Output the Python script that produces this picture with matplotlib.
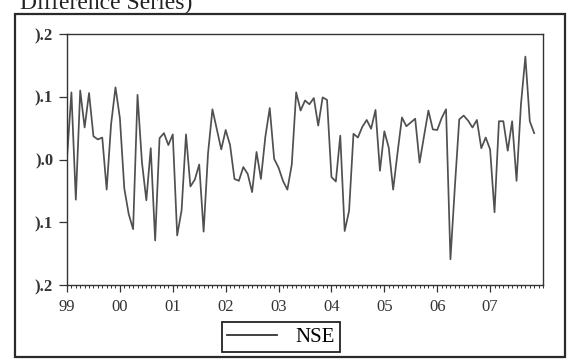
import numpy as np
import matplotlib
matplotlib.use('Agg')
import matplotlib.pyplot as plt
from matplotlib.lines import Line2D
from matplotlib.patches import Rectangle

# monthly NSE difference series, Jan 1999 .. Nov 2007
y1999 = [0.002, 0.107, -0.064, 0.110, 0.051, 0.106, 0.037, 0.032, 0.035, -0.048, 0.056, 0.115]
y2000 = [0.066, -0.046, -0.087, -0.111, 0.103, -0.004, -0.065, 0.018, -0.129, 0.034, 0.042, 0.023]
y2001 = [0.040, -0.121, -0.081, 0.040, -0.043, -0.032, -0.008, -0.115, 0.010, 0.080, 0.048, 0.016]
y2002 = [0.047, 0.023, -0.031, -0.034, -0.012, -0.023, -0.052, 0.012, -0.031, 0.036, 0.082, 0.001]
y2003 = [-0.013, -0.034, -0.048, -0.008, 0.107, 0.078, 0.094, 0.088, 0.098, 0.054, 0.099, 0.095]
y2004 = [-0.028, -0.035, 0.038, -0.114, -0.082, 0.041, 0.035, 0.052, 0.063, 0.049, 0.079, -0.018]
y2005 = [0.045, 0.019, -0.048, 0.011, 0.067, 0.053, 0.059, 0.065, -0.005, 0.037, 0.078, 0.048]
y2006 = [0.047, 0.066, 0.080, -0.159, -0.044, 0.064, 0.070, 0.062, 0.051, 0.063, 0.018, 0.035]
y2007 = [0.016, -0.084, 0.061, 0.061, 0.014, 0.061, -0.034, 0.088, 0.164, 0.061, 0.042]

nse = y1999 + y2000 + y2001 + y2002 + y2003 + y2004 + y2005 + y2006 + y2007
years = list(range(1999, 2008))
year_labels = ['99', '00', '01', '02', '03', '04', '05', '06', '07']
ytick_vals = [0.2, 0.1, 0.0, -0.1, -0.2]
ytick_labels = [').2', ').1', ').0', ').1', ').2']

plt.rcParams['font.family'] = ['Liberation Serif', 'DejaVu Serif']

W, H = 576, 360
fig = plt.figure(figsize=(W / 100, H / 100), dpi=100)
fig.patch.set_facecolor('white')

# outer frame of the scanned figure
fig.add_artist(Rectangle((15 / W, 1 - 357 / H), 550 / W, 343 / H, transform=fig.transFigure,
                         fill=False, edgecolor='#2a2a2a', linewidth=1.6))

# heading, cut at the top edge like in the scan
fig.text(20 / W, 1 - 9 / H, 'Difference Series)', fontsize=17, color='#222222',
         ha='left', va='baseline')

ax = fig.add_axes([67 / W, 1 - 285 / H, 476 / W, 251 / H])
x = 1999 + np.arange(len(nse)) / 12.0
ax.plot(x, nse, color='#505050', linewidth=1.25)

ax.set_xlim(1999, 2008)
ax.set_ylim(-0.2, 0.2)
ax.set_xticks(years)
ax.set_xticklabels(year_labels)
ax.set_xticks(1999 + np.arange(0, 109) / 12.0, minor=True)
ax.set_yticks(ytick_vals)
ax.set_yticklabels(ytick_labels)

ax.tick_params(axis='x', which='major', direction='out', length=5, width=0.9,
               labelsize=12, pad=5, colors='#333333')
ax.tick_params(axis='x', which='minor', direction='out', length=2.5, width=0.7, colors='#333333')
ax.tick_params(axis='y', which='major', direction='out', length=6, width=0.9,
               labelsize=12, pad=4, colors='#333333')
for lab in ax.get_yticklabels():
    lab.set_fontweight('bold')
for s in ax.spines.values():
    s.set_color('#333333')
    s.set_linewidth(1.0)

leg = fig.legend([Line2D([0], [0], color='#333333', linewidth=1.3)], ['NSE'],
                 loc='center', bbox_to_anchor=(281 / W, 1 - 337 / H),
                 fancybox=False, framealpha=1, edgecolor='#222222',
                 fontsize=15, handlelength=2.4, borderpad=0.25, handletextpad=0.9)
leg.get_frame().set_linewidth(1.3)

fig.savefig('out.png', dpi=100)
